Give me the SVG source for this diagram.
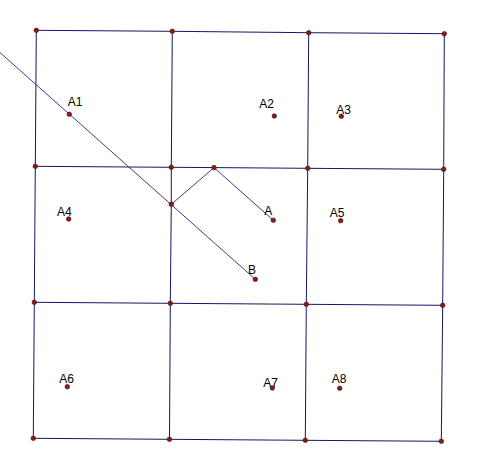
<svg xmlns="http://www.w3.org/2000/svg" width="490" height="476" viewBox="0 0 490 476">
<style>
.g{fill:none;stroke:#15156a;stroke-width:1}
.d{fill:none;stroke:#3c3c86;stroke-width:1}
.p{fill:#8b1a1a;stroke:#4a0a0a;stroke-width:0.6}
.t{font-family:"Liberation Sans",Arial,sans-serif;font-size:12px;fill:#000;text-anchor:middle}
</style>
<rect width="490" height="476" fill="#fff"/>
<g id="connectors">
<polyline class="g" points="36.3,30.3 172.3,31.3 308.7,32.7 444.3,33.7"/>
<polyline class="g" points="35.3,166.3 171.3,167.3 214,167.6 307.7,168.3 443.7,169.3"/>
<polyline class="g" points="34.3,302.3 170.3,303.3 306.3,304.3 442.7,305.3"/>
<polyline class="g" points="33.3,438.3 169.5,439.3 305.3,440.3 441.3,441.3"/>
<polyline class="g" points="36.3,30.3 35.3,166.3 34.3,302.3 33.3,438.3"/>
<polyline class="g" points="172.3,31.3 171.3,167.3 171.3,204.3 170.3,303.3 169.5,439.3"/>
<polyline class="g" points="308.7,32.7 307.7,168.3 306.3,304.3 305.3,440.3"/>
<polyline class="g" points="444.3,33.7 443.7,169.3 442.7,305.3 441.3,441.3"/>
<line class="d" x1="0" y1="52.6" x2="255.3" y2="279.3"/>
<polyline class="d" points="171.3,204.3 214,167.6 273.3,220.3"/>
</g>
<g id="corners">
<circle class="p" cx="36.3" cy="30.3" r="2.3"/><circle class="p" cx="172.3" cy="31.3" r="2.3"/><circle class="p" cx="308.7" cy="32.7" r="2.3"/><circle class="p" cx="444.3" cy="33.7" r="2.3"/>
<circle class="p" cx="35.3" cy="166.3" r="2.3"/><circle class="p" cx="171.3" cy="167.3" r="2.3"/><circle class="p" cx="307.7" cy="168.3" r="2.3"/><circle class="p" cx="443.7" cy="169.3" r="2.3"/>
<circle class="p" cx="34.3" cy="302.3" r="2.3"/><circle class="p" cx="170.3" cy="303.3" r="2.3"/><circle class="p" cx="306.3" cy="304.3" r="2.3"/><circle class="p" cx="442.7" cy="305.3" r="2.3"/>
<circle class="p" cx="33.3" cy="438.3" r="2.3"/><circle class="p" cx="169.5" cy="439.3" r="2.3"/><circle class="p" cx="305.3" cy="440.3" r="2.3"/><circle class="p" cx="441.3" cy="441.3" r="2.3"/>
</g>
<g id="P1"><circle class="p" cx="214" cy="167.6" r="2.3"/></g>
<g id="P2"><circle class="p" cx="171.3" cy="204.3" r="2.3"/></g>
<g id="A1"><circle class="p" cx="69.3" cy="114.3" r="2.3"/><text class="t" x="75" y="106">A1</text></g>
<g id="A2"><circle class="p" cx="274.3" cy="116" r="2.3"/><text class="t" x="266.7" y="108.3">A2</text></g>
<g id="A3"><circle class="p" cx="341.3" cy="116.3" r="2.3"/><text class="t" x="343.7" y="113.7">A3</text></g>
<g id="A4"><circle class="p" cx="68.7" cy="219" r="2.3"/><text class="t" x="64.3" y="215.7">A4</text></g>
<g id="A5"><circle class="p" cx="340.7" cy="220.7" r="2.3"/><text class="t" x="337" y="216.7">A5</text></g>
<g id="A"><circle class="p" cx="273.3" cy="220.3" r="2.3"/><text class="t" x="268.3" y="215">A</text></g>
<g id="B"><circle class="p" cx="255.3" cy="279.3" r="2.3"/><text class="t" x="252" y="274">B</text></g>
<g id="A6"><circle class="p" cx="67.3" cy="386.7" r="2.3"/><text class="t" x="66.7" y="382.7">A6</text></g>
<g id="A7"><circle class="p" cx="272.3" cy="388" r="2.3"/><text class="t" x="270.7" y="387.3">A7</text></g>
<g id="A8"><circle class="p" cx="339.7" cy="388.3" r="2.3"/><text class="t" x="339" y="382.7">A8</text></g>
</svg>
